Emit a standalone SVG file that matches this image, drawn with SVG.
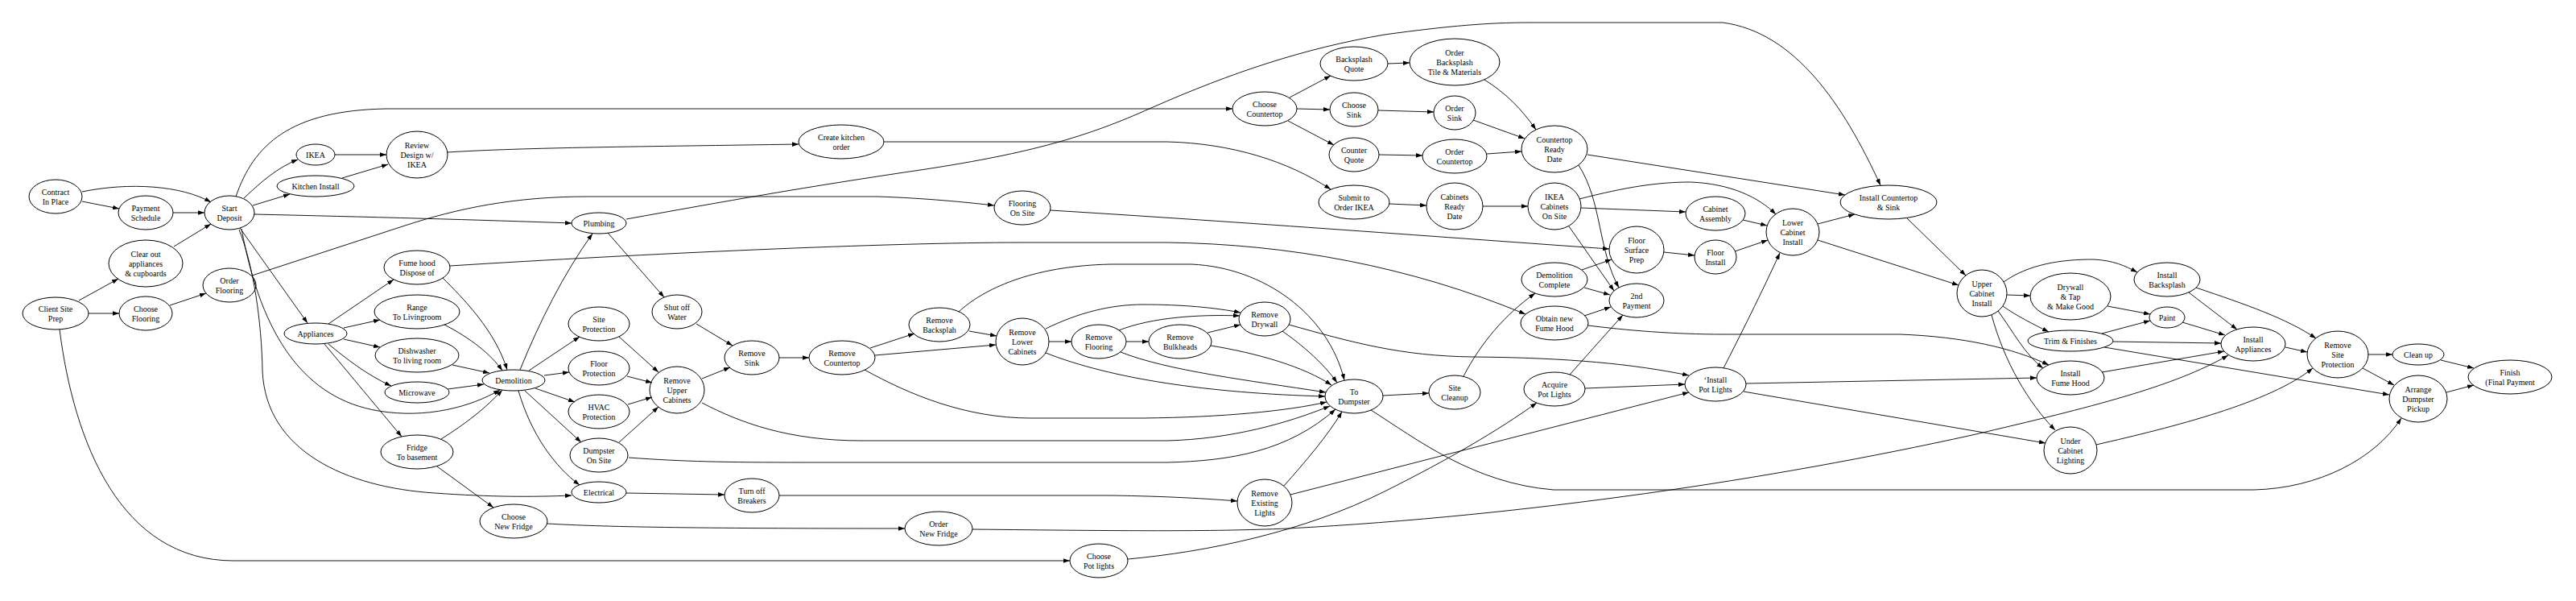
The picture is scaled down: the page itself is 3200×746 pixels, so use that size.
<svg xmlns="http://www.w3.org/2000/svg" width="3200" height="746" viewBox="0 0 3200 746">
<style>
.node ellipse{fill:none;stroke:#000;stroke-width:1}
.node text{font-family:"Liberation Serif","Times New Roman",serif;font-size:10px;text-anchor:middle;fill:#000}
.edge{fill:none;stroke:#000;stroke-width:0.9;marker-end:url(#arr)}
</style>
<defs>
<marker id="arr" viewBox="0 0 10 7" refX="10" refY="3.5" markerWidth="8" markerHeight="5.6" markerUnits="userSpaceOnUse" orient="auto"><path d="M0,0 L10,3.5 L0,7 z" fill="#000"/></marker>
</defs>
<rect x="0" y="0" width="3200" height="746" fill="#fff"/>
<g id="connectors">
<path class="edge" d="M102,238 C160,226 225,230 262,251"/>
<path class="edge" d="M102,250 L148,259"/>
<path class="edge" d="M215,264 L254,264"/>
<path class="edge" d="M98,373 L147,346"/>
<path class="edge" d="M110,389 L148,389"/>
<path class="edge" d="M74,409 C92,550 150,696 290,696 L1329,696"/>
<path class="edge" d="M216,306 L262,278"/>
<path class="edge" d="M211,379 L256,364"/>
<path class="edge" d="M313,342 L500,281 C570,258 640,244 730,244 L1090,244 C1150,246 1200,251 1235,255"/>
<path class="edge" d="M303,246 C325,225 345,208 370,198"/>
<path class="edge" d="M314,255 L360,241"/>
<path class="edge" d="M293,244 C315,180 360,137 480,135 L1531,135"/>
<path class="edge" d="M316,266 C450,269 600,273 710,277"/>
<path class="edge" d="M298,283 L382,401"/>
<path class="edge" d="M300,284 C325,420 380,495 470,510 C530,520 585,505 621,484"/>
<path class="edge" d="M297,285 C315,330 325,400 326,460 C330,560 430,605 540,612 C610,617 660,617 710,615"/>
<path class="edge" d="M416,192 L480,192"/>
<path class="edge" d="M425,221 L482,204"/>
<path class="edge" d="M556,189 C650,183 800,182 992,179"/>
<path class="edge" d="M1098,176 L1450,176 C1530,178 1600,200 1653,235"/>
<path class="edge" d="M408,402 L489,347"/>
<path class="edge" d="M427,407 L472,397"/>
<path class="edge" d="M427,421 L472,431"/>
<path class="edge" d="M408,427 C430,445 455,465 486,479"/>
<path class="edge" d="M403,427 L499,542"/>
<path class="edge" d="M550,345 C575,370 615,410 630,459"/>
<path class="edge" d="M559,330 C800,315 1100,301 1270,301 L1450,301 C1600,303 1750,330 1895,390"/>
<path class="edge" d="M552,403 C585,420 610,440 624,460"/>
<path class="edge" d="M562,453 L608,463"/>
<path class="edge" d="M556,483 L601,477"/>
<path class="edge" d="M548,545 C580,525 605,505 624,484"/>
<path class="edge" d="M543,579 L613,630"/>
<path class="edge" d="M680,650 C750,654 850,656 1124,656"/>
<path class="edge" d="M646,459 C670,400 700,340 736,290"/>
<path class="edge" d="M657,460 L720,418"/>
<path class="edge" d="M676,466 L707,462"/>
<path class="edge" d="M665,482 L714,499"/>
<path class="edge" d="M652,485 L722,549"/>
<path class="edge" d="M644,485 C660,540 690,580 720,602"/>
<path class="edge" d="M755,289 L825,369"/>
<path class="edge" d="M778,272 C900,250 1000,232 1150,210 C1280,190 1350,170 1430,134 C1530,90 1620,60 1720,43 C1800,32 1850,28 1900,28 L2140,28 C2230,40 2290,130 2336,230"/>
<path class="edge" d="M769,418 L818,462"/>
<path class="edge" d="M779,467 L810,475"/>
<path class="edge" d="M780,502 L810,493"/>
<path class="edge" d="M769,549 L818,505"/>
<path class="edge" d="M781,568 C850,573 900,574 1000,574 L1450,574 C1530,572 1600,560 1659,508"/>
<path class="edge" d="M778,612 L900,614"/>
<path class="edge" d="M968,615 L1380,615 C1450,616 1500,619 1537,622"/>
<path class="edge" d="M865,402 L910,429"/>
<path class="edge" d="M872,470 L907,456"/>
<path class="edge" d="M872,500 C920,525 980,547 1070,547 L1450,547 C1530,545 1600,525 1652,504"/>
<path class="edge" d="M968,444 L1005,444"/>
<path class="edge" d="M1081,432 L1136,414"/>
<path class="edge" d="M1087,441 L1237,428"/>
<path class="edge" d="M1074,459 C1130,490 1200,519 1280,519 L1420,519 C1520,518 1600,510 1648,499"/>
<path class="edge" d="M1204,411 L1238,417"/>
<path class="edge" d="M1191,387 C1220,360 1280,330 1380,328 L1480,328 C1570,332 1650,390 1670,472"/>
<path class="edge" d="M1303,424 L1331,424"/>
<path class="edge" d="M1299,408 C1340,388 1380,378 1420,378 C1470,378 1510,382 1541,388"/>
<path class="edge" d="M1399,424 L1427,424"/>
<path class="edge" d="M1390,410 C1430,394 1490,390 1540,392"/>
<path class="edge" d="M1392,437 C1450,460 1550,472 1647,487"/>
<path class="edge" d="M1500,413 L1541,403"/>
<path class="edge" d="M1504,429 C1560,438 1620,455 1654,478"/>
<path class="edge" d="M1299,438 C1380,470 1500,488 1646,492"/>
<path class="edge" d="M1593,411 C1620,430 1645,452 1661,475"/>
<path class="edge" d="M1601,403 C1680,425 1740,442 1830,443 C1950,444 2030,452 2098,466"/>
<path class="edge" d="M1595,603 C1620,575 1650,540 1667,511"/>
<path class="edge" d="M1603,614 L2098,487"/>
<path class="edge" d="M1718,491 L1775,488"/>
<path class="edge" d="M1703,509 C1760,545 1830,600 1930,608 L2800,608 C2880,606 2950,570 2983,519"/>
<path class="edge" d="M1818,467 C1840,425 1870,390 1907,364"/>
<path class="edge" d="M1401,694 C1500,685 1620,660 1720,610 C1800,570 1860,535 1909,500"/>
<path class="edge" d="M1208,657 C1400,659 1500,660 1600,656 C1900,640 2200,595 2450,540 C2600,505 2700,480 2768,441"/>
<path class="edge" d="M1602,121 L1653,94"/>
<path class="edge" d="M1611,135 L1652,136"/>
<path class="edge" d="M1600,150 L1657,180"/>
<path class="edge" d="M1724,79 L1751,78"/>
<path class="edge" d="M1712,137 L1781,139"/>
<path class="edge" d="M1713,192 L1767,193"/>
<path class="edge" d="M1844,99 C1870,115 1890,135 1908,161"/>
<path class="edge" d="M1830,149 L1894,172"/>
<path class="edge" d="M1847,191 L1890,188"/>
<path class="edge" d="M1972,192 L2292,242"/>
<path class="edge" d="M1961,205 C1990,250 1985,310 2011,357"/>
<path class="edge" d="M1726,253 L1772,255"/>
<path class="edge" d="M1842,256 L1898,256"/>
<path class="edge" d="M1962,247 C2020,232 2060,226 2100,226 C2150,228 2185,245 2206,266"/>
<path class="edge" d="M1964,258 L2094,263"/>
<path class="edge" d="M1949,281 L2005,361"/>
<path class="edge" d="M1965,335 L2002,322"/>
<path class="edge" d="M1968,357 L2000,366"/>
<path class="edge" d="M1305,261 C1550,276 1800,295 1999,309"/>
<path class="edge" d="M1968,392 L2001,381"/>
<path class="edge" d="M1973,404 C2020,410 2080,415 2140,415 L2360,415 C2440,418 2500,432 2545,453"/>
<path class="edge" d="M1950,465 L2016,391"/>
<path class="edge" d="M1969,482 L2093,477"/>
<path class="edge" d="M2067,313 L2105,317"/>
<path class="edge" d="M2165,273 L2195,280"/>
<path class="edge" d="M2155,312 L2196,298"/>
<path class="edge" d="M2141,457 C2160,420 2190,360 2211,314"/>
<path class="edge" d="M2258,278 L2304,266"/>
<path class="edge" d="M2258,298 L2433,354"/>
<path class="edge" d="M2369,271 L2442,342"/>
<path class="edge" d="M2489,350 C2520,328 2560,322 2600,322 C2625,323 2640,330 2655,338"/>
<path class="edge" d="M2493,366 L2522,367"/>
<path class="edge" d="M2488,380 C2505,392 2525,402 2545,412"/>
<path class="edge" d="M2482,386 C2500,410 2515,440 2538,457"/>
<path class="edge" d="M2474,391 C2490,450 2520,500 2553,534"/>
<path class="edge" d="M2169,476 L2530,469"/>
<path class="edge" d="M2166,486 L2541,550"/>
<path class="edge" d="M2618,380 L2671,390"/>
<path class="edge" d="M2611,414 L2671,398"/>
<path class="edge" d="M2625,424 L2759,426"/>
<path class="edge" d="M2614,431 L2968,490"/>
<path class="edge" d="M2711,400 L2764,416"/>
<path class="edge" d="M2719,363 L2779,409"/>
<path class="edge" d="M2728,357 C2790,378 2840,395 2877,420"/>
<path class="edge" d="M2611,462 L2763,436"/>
<path class="edge" d="M2604,552 C2700,530 2820,500 2873,457"/>
<path class="edge" d="M2839,431 L2866,437"/>
<path class="edge" d="M2942,440 L2972,440"/>
<path class="edge" d="M2935,457 L2974,478"/>
<path class="edge" d="M3032,447 L3073,457"/>
<path class="edge" d="M3039,487 L3073,478"/>
</g>
<g id="n_contract" class="node"><ellipse cx="69" cy="244" rx="33" ry="21"/><text x="69" y="241.5"><tspan x="69">Contract</tspan><tspan x="69" dy="12">In Place</tspan></text></g>
<g id="n_payment" class="node"><ellipse cx="181" cy="264" rx="34" ry="21"/><text x="181" y="261.5"><tspan x="181">Payment</tspan><tspan x="181" dy="12">Schedule</tspan></text></g>
<g id="n_client" class="node"><ellipse cx="69" cy="389" rx="41" ry="20"/><text x="69" y="386.5"><tspan x="69">Client Site</tspan><tspan x="69" dy="12">Prep</tspan></text></g>
<g id="n_clearout" class="node"><ellipse cx="181" cy="327" rx="46" ry="29"/><text x="181" y="318.5"><tspan x="181">Clear out</tspan><tspan x="181" dy="12">appliances</tspan><tspan x="181" dy="12">&amp; cupboards</tspan></text></g>
<g id="n_chooseflooring" class="node"><ellipse cx="181" cy="389" rx="33" ry="21"/><text x="181" y="386.5"><tspan x="181">Choose</tspan><tspan x="181" dy="12">Flooring</tspan></text></g>
<g id="n_start" class="node"><ellipse cx="285" cy="264" rx="31" ry="21"/><text x="285" y="261.5"><tspan x="285">Start</tspan><tspan x="285" dy="12">Deposit</tspan></text></g>
<g id="n_orderflooring" class="node"><ellipse cx="285" cy="354" rx="33" ry="21"/><text x="285" y="351.5"><tspan x="285">Order</tspan><tspan x="285" dy="12">Flooring</tspan></text></g>
<g id="n_ikea" class="node"><ellipse cx="392" cy="192" rx="24" ry="13"/><text x="392" y="195.5">IKEA</text></g>
<g id="n_kitchen" class="node"><ellipse cx="392" cy="231" rx="48" ry="13"/><text x="392" y="234.5">Kitchen Install</text></g>
<g id="n_appliances" class="node"><ellipse cx="392" cy="414" rx="39" ry="13"/><text x="392" y="417.5">Appliances</text></g>
<g id="n_review" class="node"><ellipse cx="518" cy="192" rx="38" ry="29"/><text x="518" y="183.5"><tspan x="518">Review</tspan><tspan x="518" dy="12">Design w/</tspan><tspan x="518" dy="12">IKEA</tspan></text></g>
<g id="n_fumehood" class="node"><ellipse cx="518" cy="332" rx="41" ry="21"/><text x="518" y="329.5"><tspan x="518">Fume hood</tspan><tspan x="518" dy="12">Dispose of</tspan></text></g>
<g id="n_range" class="node"><ellipse cx="518" cy="387" rx="53" ry="21"/><text x="518" y="384.5"><tspan x="518">Range</tspan><tspan x="518" dy="12">To Livingroom</tspan></text></g>
<g id="n_dishwasher" class="node"><ellipse cx="518" cy="441" rx="52" ry="21"/><text x="518" y="438.5"><tspan x="518">Dishwasher</tspan><tspan x="518" dy="12">To living room</tspan></text></g>
<g id="n_microwave" class="node"><ellipse cx="518" cy="487" rx="40" ry="13"/><text x="518" y="490.5">Microwave</text></g>
<g id="n_fridge" class="node"><ellipse cx="518" cy="561" rx="45" ry="21"/><text x="518" y="558.5"><tspan x="518">Fridge</tspan><tspan x="518" dy="12">To basement</tspan></text></g>
<g id="n_demolition" class="node"><ellipse cx="638" cy="472" rx="39" ry="13"/><text x="638" y="475.5">Demolition</text></g>
<g id="n_choosefridge" class="node"><ellipse cx="638" cy="647" rx="42" ry="21"/><text x="638" y="644.5"><tspan x="638">Choose</tspan><tspan x="638" dy="12">New Fridge</tspan></text></g>
<g id="n_plumbing" class="node"><ellipse cx="744" cy="277" rx="34" ry="13"/><text x="744" y="280.5">Plumbing</text></g>
<g id="n_siteprot" class="node"><ellipse cx="744" cy="402" rx="38" ry="21"/><text x="744" y="399.5"><tspan x="744">Site</tspan><tspan x="744" dy="12">Protection</tspan></text></g>
<g id="n_floorprot" class="node"><ellipse cx="744" cy="457" rx="38" ry="21"/><text x="744" y="454.5"><tspan x="744">Floor</tspan><tspan x="744" dy="12">Protection</tspan></text></g>
<g id="n_hvac" class="node"><ellipse cx="744" cy="511" rx="38" ry="21"/><text x="744" y="508.5"><tspan x="744">HVAC</tspan><tspan x="744" dy="12">Protection</tspan></text></g>
<g id="n_dumpsteronsite" class="node"><ellipse cx="744" cy="565" rx="36" ry="21"/><text x="744" y="562.5"><tspan x="744">Dumpster</tspan><tspan x="744" dy="12">On Site</tspan></text></g>
<g id="n_electrical" class="node"><ellipse cx="744" cy="611" rx="34" ry="13"/><text x="744" y="614.5">Electrical</text></g>
<g id="n_shutoff" class="node"><ellipse cx="841" cy="387" rx="31" ry="21"/><text x="841" y="384.5"><tspan x="841">Shut off</tspan><tspan x="841" dy="12">Water</tspan></text></g>
<g id="n_removeupper" class="node"><ellipse cx="841" cy="484" rx="34" ry="29"/><text x="841" y="475.5"><tspan x="841">Remove</tspan><tspan x="841" dy="12">Upper</tspan><tspan x="841" dy="12">Cabinets</tspan></text></g>
<g id="n_removesink" class="node"><ellipse cx="934" cy="444" rx="34" ry="21"/><text x="934" y="441.5"><tspan x="934">Remove</tspan><tspan x="934" dy="12">Sink</tspan></text></g>
<g id="n_breakers" class="node"><ellipse cx="934" cy="615" rx="34" ry="21"/><text x="934" y="612.5"><tspan x="934">Turn off</tspan><tspan x="934" dy="12">Breakers</tspan></text></g>
<g id="n_createorder" class="node"><ellipse cx="1045" cy="176" rx="53" ry="21"/><text x="1045" y="173.5"><tspan x="1045">Create kitchen</tspan><tspan x="1045" dy="12">order</tspan></text></g>
<g id="n_removecounter" class="node"><ellipse cx="1046" cy="444" rx="41" ry="21"/><text x="1046" y="441.5"><tspan x="1046">Remove</tspan><tspan x="1046" dy="12">Countertop</tspan></text></g>
<g id="n_removebacksplash" class="node"><ellipse cx="1167" cy="403" rx="38" ry="21"/><text x="1167" y="400.5"><tspan x="1167">Remove</tspan><tspan x="1167" dy="12">Backsplah</tspan></text></g>
<g id="n_ordernewfridge" class="node"><ellipse cx="1166" cy="656" rx="42" ry="21"/><text x="1166" y="653.5"><tspan x="1166">Order</tspan><tspan x="1166" dy="12">New Fridge</tspan></text></g>
<g id="n_flooringonsite" class="node"><ellipse cx="1270" cy="258" rx="35" ry="21"/><text x="1270" y="255.5"><tspan x="1270">Flooring</tspan><tspan x="1270" dy="12">On Site</tspan></text></g>
<g id="n_removelower" class="node"><ellipse cx="1270" cy="424" rx="33" ry="29"/><text x="1270" y="415.5"><tspan x="1270">Remove</tspan><tspan x="1270" dy="12">Lower</tspan><tspan x="1270" dy="12">Cabinets</tspan></text></g>
<g id="n_removeflooring" class="node"><ellipse cx="1365" cy="424" rx="34" ry="21"/><text x="1365" y="421.5"><tspan x="1365">Remove</tspan><tspan x="1365" dy="12">Flooring</tspan></text></g>
<g id="n_choosepot" class="node"><ellipse cx="1365" cy="696" rx="36" ry="21"/><text x="1365" y="693.5"><tspan x="1365">Choose</tspan><tspan x="1365" dy="12">Pot lights</tspan></text></g>
<g id="n_removebulkheads" class="node"><ellipse cx="1466" cy="424" rx="39" ry="21"/><text x="1466" y="421.5"><tspan x="1466">Remove</tspan><tspan x="1466" dy="12">Bulkheads</tspan></text></g>
<g id="n_choosecounter" class="node"><ellipse cx="1571" cy="135" rx="40" ry="21"/><text x="1571" y="132.5"><tspan x="1571">Choose</tspan><tspan x="1571" dy="12">Countertop</tspan></text></g>
<g id="n_removedrywall" class="node"><ellipse cx="1571" cy="396" rx="32" ry="21"/><text x="1571" y="393.5"><tspan x="1571">Remove</tspan><tspan x="1571" dy="12">Drywall</tspan></text></g>
<g id="n_removelights" class="node"><ellipse cx="1571" cy="624" rx="34" ry="29"/><text x="1571" y="615.5"><tspan x="1571">Remove</tspan><tspan x="1571" dy="12">Existing</tspan><tspan x="1571" dy="12">Lights</tspan></text></g>
<g id="n_backsplashquote" class="node"><ellipse cx="1682" cy="79" rx="42" ry="21"/><text x="1682" y="76.5"><tspan x="1682">Backsplash</tspan><tspan x="1682" dy="12">Quote</tspan></text></g>
<g id="n_choosesink" class="node"><ellipse cx="1682" cy="136" rx="30" ry="21"/><text x="1682" y="133.5"><tspan x="1682">Choose</tspan><tspan x="1682" dy="12">Sink</tspan></text></g>
<g id="n_counterquote" class="node"><ellipse cx="1682" cy="192" rx="31" ry="21"/><text x="1682" y="189.5"><tspan x="1682">Counter</tspan><tspan x="1682" dy="12">Quote</tspan></text></g>
<g id="n_submitikea" class="node"><ellipse cx="1682" cy="251" rx="44" ry="21"/><text x="1682" y="248.5"><tspan x="1682">Submit to</tspan><tspan x="1682" dy="12">Order IKEA</tspan></text></g>
<g id="n_todumpster" class="node"><ellipse cx="1682" cy="492" rx="36" ry="21"/><text x="1682" y="489.5"><tspan x="1682">To</tspan><tspan x="1682" dy="12">Dumpster</tspan></text></g>
<g id="n_orderbacksplash" class="node"><ellipse cx="1807" cy="77" rx="56" ry="29"/><text x="1807" y="68.5"><tspan x="1807">Order</tspan><tspan x="1807" dy="12">Backsplash</tspan><tspan x="1807" dy="12">Tile &amp; Materials</tspan></text></g>
<g id="n_ordersink" class="node"><ellipse cx="1807" cy="140" rx="26" ry="21"/><text x="1807" y="137.5"><tspan x="1807">Order</tspan><tspan x="1807" dy="12">Sink</tspan></text></g>
<g id="n_ordercounter" class="node"><ellipse cx="1807" cy="194" rx="40" ry="21"/><text x="1807" y="191.5"><tspan x="1807">Order</tspan><tspan x="1807" dy="12">Countertop</tspan></text></g>
<g id="n_cabinetsready" class="node"><ellipse cx="1807" cy="256" rx="35" ry="29"/><text x="1807" y="247.5"><tspan x="1807">Cabinets</tspan><tspan x="1807" dy="12">Ready</tspan><tspan x="1807" dy="12">Date</tspan></text></g>
<g id="n_sitecleanup" class="node"><ellipse cx="1807" cy="487" rx="32" ry="21"/><text x="1807" y="484.5"><tspan x="1807">Site</tspan><tspan x="1807" dy="12">Cleanup</tspan></text></g>
<g id="n_counterready" class="node"><ellipse cx="1931" cy="185" rx="41" ry="29"/><text x="1931" y="176.5"><tspan x="1931">Countertop</tspan><tspan x="1931" dy="12">Ready</tspan><tspan x="1931" dy="12">Date</tspan></text></g>
<g id="n_ikeaonsite" class="node"><ellipse cx="1931" cy="256" rx="33" ry="29"/><text x="1931" y="247.5"><tspan x="1931">IKEA</tspan><tspan x="1931" dy="12">Cabinets</tspan><tspan x="1931" dy="12">On Site</tspan></text></g>
<g id="n_demcomplete" class="node"><ellipse cx="1931" cy="347" rx="41" ry="21"/><text x="1931" y="344.5"><tspan x="1931">Demolition</tspan><tspan x="1931" dy="12">Complete</tspan></text></g>
<g id="n_obtainfume" class="node"><ellipse cx="1931" cy="401" rx="42" ry="21"/><text x="1931" y="398.5"><tspan x="1931">Obtain new</tspan><tspan x="1931" dy="12">Fume Hood</tspan></text></g>
<g id="n_acquirepot" class="node"><ellipse cx="1931" cy="483" rx="38" ry="21"/><text x="1931" y="480.5"><tspan x="1931">Acquire</tspan><tspan x="1931" dy="12">Pot Lights</tspan></text></g>
<g id="n_floorprep" class="node"><ellipse cx="2033" cy="310" rx="34" ry="29"/><text x="2033" y="301.5"><tspan x="2033">Floor</tspan><tspan x="2033" dy="12">Surface</tspan><tspan x="2033" dy="12">Prep</tspan></text></g>
<g id="n_payment2" class="node"><ellipse cx="2033" cy="373" rx="34" ry="21"/><text x="2033" y="370.5"><tspan x="2033">2nd</tspan><tspan x="2033" dy="12">Payment</tspan></text></g>
<g id="n_cabinetassembly" class="node"><ellipse cx="2131" cy="265" rx="37" ry="21"/><text x="2131" y="262.5"><tspan x="2131">Cabinet</tspan><tspan x="2131" dy="12">Assembly</tspan></text></g>
<g id="n_floorinstall" class="node"><ellipse cx="2131" cy="319" rx="26" ry="21"/><text x="2131" y="316.5"><tspan x="2131">Floor</tspan><tspan x="2131" dy="12">Install</tspan></text></g>
<g id="n_installpot" class="node"><ellipse cx="2131" cy="477" rx="38" ry="21"/><text x="2131" y="474.5"><tspan x="2131">‘Install</tspan><tspan x="2131" dy="12">Pot Lights</tspan></text></g>
<g id="n_lowercab" class="node"><ellipse cx="2227" cy="288" rx="33" ry="29"/><text x="2227" y="279.5"><tspan x="2227">Lower</tspan><tspan x="2227" dy="12">Cabinet</tspan><tspan x="2227" dy="12">Install</tspan></text></g>
<g id="n_installcounter" class="node"><ellipse cx="2346" cy="251" rx="60" ry="21"/><text x="2346" y="248.5"><tspan x="2346">Install Countertop</tspan><tspan x="2346" dy="12">&amp; Sink</tspan></text></g>
<g id="n_uppercab" class="node"><ellipse cx="2462" cy="364" rx="31" ry="29"/><text x="2462" y="355.5"><tspan x="2462">Upper</tspan><tspan x="2462" dy="12">Cabinet</tspan><tspan x="2462" dy="12">Install</tspan></text></g>
<g id="n_drywall" class="node"><ellipse cx="2572" cy="368" rx="50" ry="29"/><text x="2572" y="359.5"><tspan x="2572">Drywall</tspan><tspan x="2572" dy="12">&amp; Tap</tspan><tspan x="2572" dy="12">&amp; Make Good</tspan></text></g>
<g id="n_trim" class="node"><ellipse cx="2572" cy="423" rx="53" ry="13"/><text x="2572" y="426.5">Trim &amp; Finishes</text></g>
<g id="n_installfume" class="node"><ellipse cx="2572" cy="469" rx="42" ry="21"/><text x="2572" y="466.5"><tspan x="2572">Install</tspan><tspan x="2572" dy="12">Fume Hood</tspan></text></g>
<g id="n_undercab" class="node"><ellipse cx="2572" cy="559" rx="33" ry="29"/><text x="2572" y="550.5"><tspan x="2572">Under</tspan><tspan x="2572" dy="12">Cabinet</tspan><tspan x="2572" dy="12">Lighting</tspan></text></g>
<g id="n_installbacksplash" class="node"><ellipse cx="2692" cy="347" rx="41" ry="21"/><text x="2692" y="344.5"><tspan x="2692">Install</tspan><tspan x="2692" dy="12">Backsplash</tspan></text></g>
<g id="n_paint" class="node"><ellipse cx="2692" cy="394" rx="22" ry="13"/><text x="2692" y="397.5">Paint</text></g>
<g id="n_installappliances" class="node"><ellipse cx="2799" cy="427" rx="40" ry="21"/><text x="2799" y="424.5"><tspan x="2799">Install</tspan><tspan x="2799" dy="12">Appliances</tspan></text></g>
<g id="n_removesiteprot" class="node"><ellipse cx="2904" cy="440" rx="38" ry="29"/><text x="2904" y="431.5"><tspan x="2904">Remove</tspan><tspan x="2904" dy="12">Site</tspan><tspan x="2904" dy="12">Protection</tspan></text></g>
<g id="n_cleanup" class="node"><ellipse cx="3004" cy="440" rx="32" ry="13"/><text x="3004" y="443.5">Clean up</text></g>
<g id="n_arrange" class="node"><ellipse cx="3004" cy="495" rx="36" ry="29"/><text x="3004" y="486.5"><tspan x="3004">Arrange</tspan><tspan x="3004" dy="12">Dumpster</tspan><tspan x="3004" dy="12">Pickup</tspan></text></g>
<g id="n_finish" class="node"><ellipse cx="3118" cy="468" rx="52" ry="21"/><text x="3118" y="465.5"><tspan x="3118">Finish</tspan><tspan x="3118" dy="12">(Final Payment</tspan></text></g>
</svg>
